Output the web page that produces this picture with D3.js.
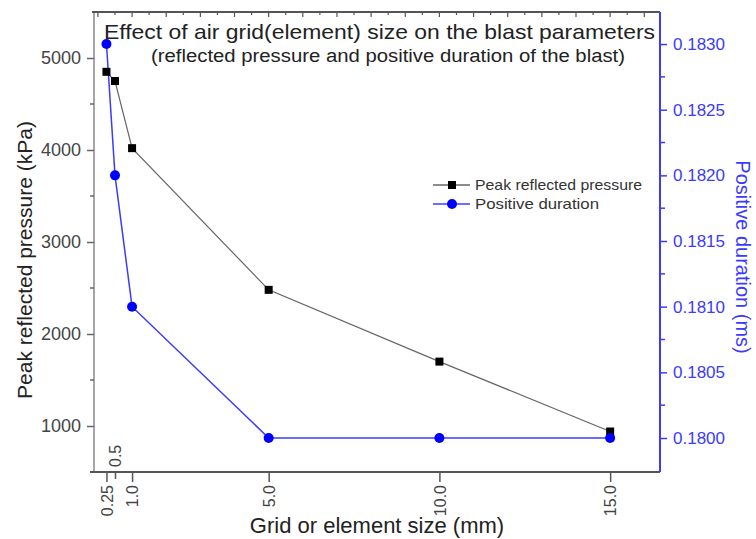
<!DOCTYPE html>
<html>
<head>
<meta charset="utf-8">
<script src="https://cdn.jsdelivr.net/npm/d3@7"></script>
<style>
  body { margin: 0; background: #fff; }
  svg { display: block; font-family: "Liberation Sans", Arial, sans-serif; }
</style>
</head>
<body>
<svg id="chart" width="756" height="539"></svg>
<script>
// grid size (mm) and the two measured series
const gridSize = [0.25, 0.5, 1.0, 5.0, 10.0, 15.0];
const pressure = [4850, 4750, 4020, 2480, 1700, 940];
const duration = [0.1830, 0.1820, 0.1810, 0.1800, 0.1800, 0.1800];

const sizeTicks = [0.25, 0.5, 1.0, 5.0, 10.0, 15.0];
const pressureTicks = [1000, 2000, 3000, 4000, 5000];
const pressureMinor = [1500, 2500, 3500, 4500];
const durationTicks = [0.1800, 0.1805, 0.1810, 0.1815, 0.1820, 0.1825, 0.1830];
const durationMinor = [0.18025, 0.18075, 0.18125, 0.18175, 0.18225, 0.18275];
const topTicks = d3.range(0, 16.01, 0.5);

const W = 756, H = 539;
const margin = { top: 12, right: 96, bottom: 67, left: 94 };
const width = W - margin.left - margin.right;
const height = H - margin.top - margin.bottom;

const blue = '#3b3bff';
const svg = d3.select('#chart');
const g = svg.append('g').attr('transform', `translate(${margin.left},${margin.top})`);

const x = d3.scaleLinear().domain([-0.115, 16.46]).range([0, width]);
const y = d3.scaleLinear().domain([500, 5500]).range([height, 0]);
const y2 = d3.scaleLinear().domain([0.179741, 0.183244]).range([height, 0]);

// left axis
const axisL = d3.axisLeft(y).tickValues(pressureTicks).tickSize(7).tickPadding(6).tickFormat(d3.format('d'));
const gl = g.append('g').call(axisL);
gl.select('.domain').attr('stroke', '#888').attr('stroke-width', 1.5).attr('d', `M0,0V${height}`);
gl.selectAll('.tick line').attr('stroke', '#666').attr('stroke-width', 1.5);
gl.selectAll('.tick text').attr('fill', '#444').style('font-size', '18px');
gl.selectAll('.minor').data(pressureMinor).join('line')
  .attr('x1', 0).attr('x2', -4).attr('y1', d => y(d)).attr('y2', d => y(d))
  .attr('stroke', '#666').attr('stroke-width', 1.5);

// right axis
const axisR = d3.axisRight(y2).tickValues(durationTicks).tickSize(7).tickPadding(6).tickFormat(d3.format('.4f'));
const gr = g.append('g').attr('transform', `translate(${width},0)`).call(axisR);
gr.select('.domain').attr('stroke', blue).attr('stroke-width', 2).attr('d', `M0,0V${height}`);
gr.selectAll('.tick line').attr('stroke', blue).attr('stroke-width', 1.5);
gr.selectAll('.tick text').attr('fill', blue).style('font-size', '17px').attr('x', 13);
gr.selectAll('.minor').data(durationMinor).join('line')
  .attr('x1', 0).attr('x2', 5).attr('y1', d => y2(d)).attr('y2', d => y2(d))
  .attr('stroke', blue).attr('stroke-width', 1.5);

// top axis (ticks only)
g.append('line').attr('x1', -2).attr('x2', width).attr('y1', 0).attr('y2', 0)
  .attr('stroke', '#555').attr('stroke-width', 2);
g.selectAll('.top-tick').data(topTicks).join('line')
  .attr('x1', d => x(d)).attr('x2', d => x(d))
  .attr('y1', 0).attr('y2', d => (d % 1 === 0 ? 5 : 3))
  .attr('stroke', '#555').attr('stroke-width', 1.2);

// bottom axis
const axisB = d3.axisBottom(x).tickValues(sizeTicks).tickSize(10).tickFormat(d => d === 0.25 ? '0.25' : d3.format('.1f')(d));
const gb = g.append('g').attr('transform', `translate(0,${height})`).call(axisB);
gb.select('.domain').attr('stroke', '#555').attr('stroke-width', 2).attr('d', `M-4,0H${width}`);
gb.selectAll('.tick line').attr('stroke', '#555').attr('stroke-width', 1.5)
  .attr('y2', d => d === 0.5 ? 7 : 10);
gb.selectAll('.tick text')
  .attr('fill', '#444').style('font-size', '16px')
  .attr('transform', 'rotate(-90)')
  .attr('dy', '0.35em')
  .attr('x', d => d === 0.5 ? 5 : -13)
  .attr('y', 0)
  .attr('text-anchor', d => d === 0.5 ? 'start' : 'end');

// series
const lineP = d3.line().x(d => x(d[0])).y(d => y(d[1]));
const lineD = d3.line().x(d => x(d[0])).y(d => y2(d[1]));
const ptsP = gridSize.map((s, i) => [s, pressure[i]]);
const ptsD = gridSize.map((s, i) => [s, duration[i]]);

g.append('path').datum(ptsP).attr('d', lineP).attr('fill', 'none').attr('stroke', '#666').attr('stroke-width', 1.2);
g.append('path').datum(ptsD).attr('d', lineD).attr('fill', 'none').attr('stroke', blue).attr('stroke-width', 1.5);

g.selectAll('.sq').data(ptsP).join('rect')
  .attr('x', d => x(d[0]) - 4).attr('y', d => y(d[1]) - 4)
  .attr('width', 8).attr('height', 8).attr('fill', '#000');
g.selectAll('.dot').data(ptsD).join('circle')
  .attr('cx', d => x(d[0])).attr('cy', d => y2(d[1])).attr('r', 5)
  .attr('fill', '#0000ff');

// titles
svg.append('text').attr('x', 104).attr('y', 39)
  .attr('textLength', 551).attr('lengthAdjust', 'spacingAndGlyphs')
  .attr('fill', '#222').style('font-size', '21px')
  .text('Effect of air grid(element) size on the blast parameters');
svg.append('text').attr('x', 151).attr('y', 62)
  .attr('textLength', 474).attr('lengthAdjust', 'spacingAndGlyphs')
  .attr('fill', '#222').style('font-size', '18px')
  .text('(reflected pressure and positive duration of the blast)');

svg.append('text').attr('transform', 'translate(32,260) rotate(-90)').attr('text-anchor', 'middle')
  .attr('fill', '#222').style('font-size', '21px').text('Peak reflected pressure (kPa)');
svg.append('text').attr('transform', 'translate(736,257) rotate(90)').attr('text-anchor', 'middle')
  .attr('fill', blue).style('font-size', '20px').text('Positive duration (ms)');
svg.append('text').attr('x', 377).attr('y', 533).attr('text-anchor', 'middle')
  .attr('fill', '#222').style('font-size', '22px').text('Grid or element size (mm)');

// legend
const legend = svg.append('g').attr('transform', 'translate(433,185)');
const items = [
  { label: 'Peak reflected pressure', color: '#666', mark: 'square', len: 167 },
  { label: 'Positive duration', color: blue, mark: 'circle', len: 124 }
];
items.forEach((it, i) => {
  const row = legend.append('g').attr('transform', `translate(0,${i * 19})`);
  row.append('line').attr('x1', 0).attr('x2', 37).attr('stroke', it.color).attr('stroke-width', 1.5);
  if (it.mark === 'square') {
    row.append('rect').attr('x', 15).attr('y', -4).attr('width', 8).attr('height', 8).attr('fill', '#000');
  } else {
    row.append('circle').attr('cx', 19).attr('cy', 0).attr('r', 5).attr('fill', '#0000ff');
  }
  row.append('text').attr('x', 42).attr('dy', '0.35em').attr('fill', '#333')
    .attr('textLength', it.len).attr('lengthAdjust', 'spacingAndGlyphs')
    .style('font-size', '15px').text(it.label);
});
</script>
</body>
</html>
